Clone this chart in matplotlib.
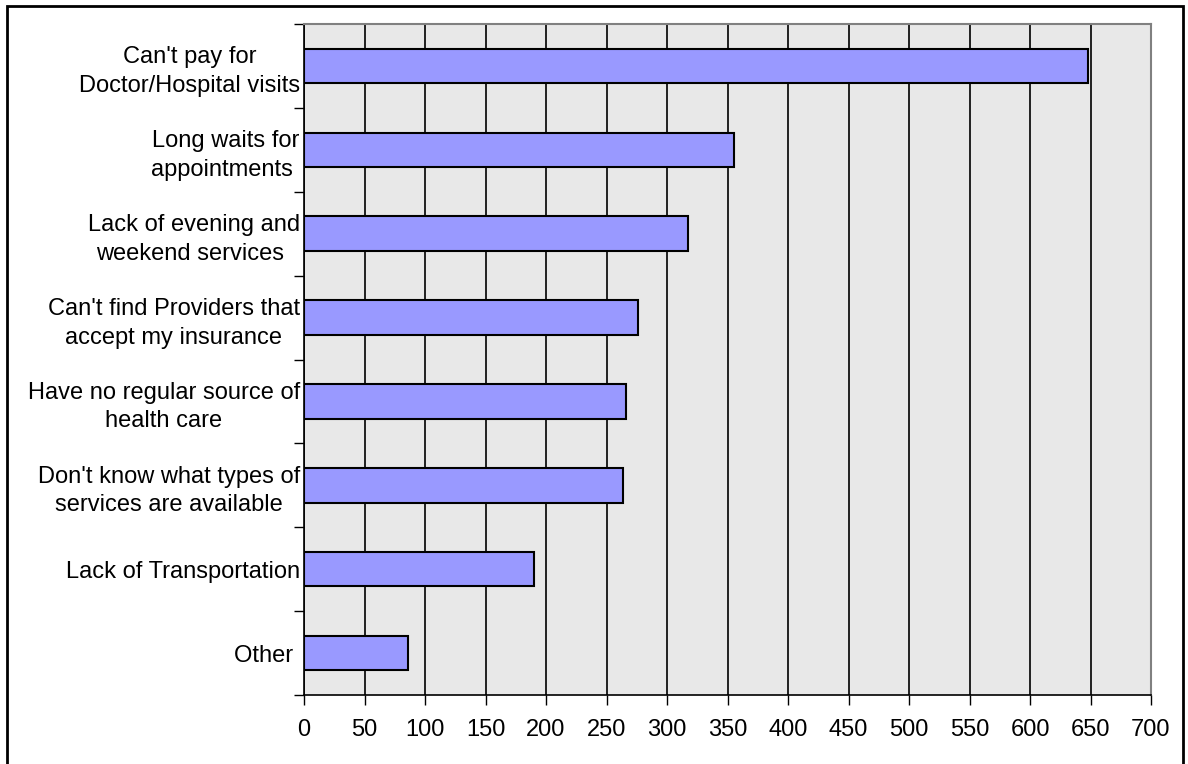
import numpy as np
import matplotlib
matplotlib.use('Agg')
import matplotlib.pyplot as plt
import matplotlib.patches as patches

categories = [
    "Can't pay for\nDoctor/Hospital visits",
    "Long waits for\nappointments ",
    "Lack of evening and\nweekend services ",
    "Can't find Providers that\naccept my insurance",
    "Have no regular source of\nhealth care",
    "Don't know what types of\nservices are available",
    "Lack of Transportation",
    "Other ",
]
values = [648, 355, 317, 276, 266, 264, 190, 86]
x_ticks = list(range(0, 701, 50))

plt.rcParams['font.family'] = ['Liberation Sans', 'DejaVu Sans']

fig = plt.figure(figsize=(11.88, 7.64), dpi=100)
ax = fig.add_axes([304 / 1188, 1 - 695 / 764, (1151 - 304) / 1188, (695 - 24) / 764])

ypos = np.arange(len(categories))
ax.set_facecolor('#e8e8e8')
ax.set_axisbelow(True)
ax.xaxis.grid(True, color='#202020', linewidth=1.4)
ax.barh(ypos, values, height=0.41, color='#9999ff', edgecolor='black', linewidth=1.5, zorder=3)

ax.set_xlim(0, 700)
ax.set_ylim(len(categories) - 0.5, -0.5)
ax.set_xticks(x_ticks)
ax.set_xticklabels([str(t) for t in x_ticks], fontsize=17)
ax.tick_params(axis='x', direction='out', length=7, width=1, pad=10, color='black')

# category labels on major ticks (no mark), tick marks at boundaries
ax.set_yticks(ypos)
ax.set_yticklabels(categories, fontsize=17, multialignment='center', linespacing=1.38)
ax.tick_params(axis='y', which='major', length=0, pad=3)
ax.set_yticks(np.arange(-0.5, len(categories), 1), minor=True)
ax.tick_params(axis='y', which='minor', direction='out', length=7, width=1, color='black')

for side in ['top', 'right']:
    ax.spines[side].set_color('#808080')
    ax.spines[side].set_linewidth(1.5)
for side in ['left', 'bottom']:
    ax.spines[side].set_color('black')
    ax.spines[side].set_linewidth(1.2)

# outer border of the chart area (bottom edge runs off the image)
fig.patches.append(patches.Rectangle((7 / 1188, -0.01), (1183 - 7) / 1188, 1.01 - 6 / 764,
                                     transform=fig.transFigure, fill=False,
                                     edgecolor='black', linewidth=2))

fig.savefig('out.png', dpi=100)
